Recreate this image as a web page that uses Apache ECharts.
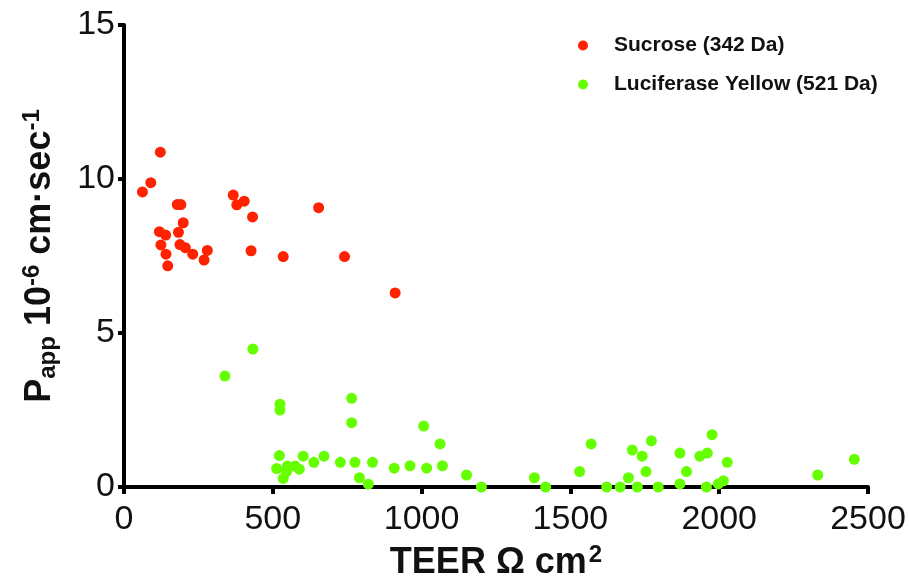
<!DOCTYPE html>
<html>
<head>
<meta charset="utf-8">
<script src="https://cdn.jsdelivr.net/npm/echarts@6/dist/echarts.min.js"></script>
<style>
html, body { margin: 0; padding: 0; background: #fff; }
#chart { width: 909px; height: 582px; }
</style>
</head>
<body>
<div id="chart"></div>
<script>
// TEER (ohm cm2) vs Papp (10^-6 cm/sec)
var sucrose = [
    [62, 9.58], [90, 9.88], [122, 10.87], [179, 9.17], [191, 9.17], [199, 8.58],
    [119, 8.29], [140, 8.18], [183, 8.27], [124, 7.86], [188, 7.87], [206, 7.77],
    [141, 7.56], [231, 7.56], [280, 7.68], [269, 7.37], [147, 7.18],
    [367, 9.48], [379, 9.16], [404, 9.28], [432, 8.77], [654, 9.07],
    [427, 7.67], [535, 7.48], [741, 7.48], [911, 6.3]
];
var lucifer = [
    [339, 3.6], [433, 4.48], [524, 2.69], [524, 2.5], [522, 1.02], [513, 0.6],
    [535, 0.28], [549, 0.68], [546, 0.5], [575, 0.68], [589, 0.58], [602, 1.0],
    [638, 0.8], [672, 1.0], [727, 0.8], [776, 0.8], [765, 2.88], [765, 2.09],
    [791, 0.3], [821, 0.09], [835, 0.8], [908, 0.61], [961, 0.69], [1007, 1.98],
    [1017, 0.61], [1062, 1.4], [1070, 0.69], [1151, 0.39], [1201, 0], [1379, 0.3],
    [1417, 0], [1531, 0.5], [1570, 1.4], [1622, 0], [1667, 0], [1695, 0.3],
    [1708, 1.2], [1725, 0], [1741, 1.0], [1754, 0.5], [1772, 1.5], [1795, 0],
    [1868, 1.1], [1868, 0.1], [1890, 0.5], [1935, 1.0], [1960, 1.1], [1976, 1.7],
    [1957, 0], [1997, 0.1], [2014, 0.2], [2027, 0.8], [2331, 0.39], [2454, 0.9]
];
var seriesNames = ['Sucrose (342 Da)', 'Luciferase Yellow (521 Da)'];

var font = "'Liberation Sans', Arial, sans-serif";
var chart = echarts.init(document.getElementById('chart'));

chart.setOption({
    animation: false,
    grid: { left: 124, right: 41, top: 25, bottom: 95, outerBoundsMode: 'none', containLabel: false },
    legend: {
        orient: 'vertical',
        left: 573,
        top: 30,
        itemWidth: 10,
        itemHeight: 10,
        itemGap: 18,
        icon: 'circle',
        textStyle: {
            fontFamily: font, fontSize: 21, fontWeight: 'bold', color: '#111',
            padding: [0, 0, 0, 21]
        },
        data: seriesNames
    },
    xAxis: {
        type: 'value',
        min: 0, max: 2500, interval: 500,
        splitLine: { show: false },
        axisLine: { lineStyle: { color: '#000', width: 4 } },
        axisTick: { length: 7, lineStyle: { color: '#000', width: 4 } },
        axisLabel: {
            margin: 16, fontFamily: font, fontSize: 34, color: '#111',
            formatter: function (v) { return String(v); }
        },
        name: '{b|TEER Ω cm}{sup|2}',
        nameLocation: 'middle',
        nameGap: 56,
        nameTextStyle: {
            rich: {
                b: { fontFamily: font, fontSize: 36, fontWeight: 'bold', color: '#111' },
                sup: { fontFamily: font, fontSize: 24, fontWeight: 'bold', color: '#111', verticalAlign: 'top', padding: [0, 0, 16, 2] }
            }
        }
    },
    yAxis: {
        type: 'value',
        min: 0, max: 15, interval: 5,
        splitLine: { show: false },
        axisLine: { lineStyle: { color: '#000', width: 4 } },
        axisTick: { length: 6, lineStyle: { color: '#000', width: 4 } },
        axisLabel: { margin: 9, fontFamily: font, fontSize: 34, color: '#111' },
        name: '{b|P}{sub|app}{b| 10}{sup|-6}{b| cm·sec}{sup|-1}',
        nameLocation: 'middle',
        nameGap: 64,
        nameRotate: 90,
        nameTextStyle: {
            rich: {
                b: { fontFamily: font, fontSize: 36, fontWeight: 'bold', color: '#111' },
                sub: { fontFamily: font, fontSize: 24, fontWeight: 'bold', color: '#111', padding: [16, 0, 0, 0] },
                sup: { fontFamily: font, fontSize: 24, fontWeight: 'bold', color: '#111', padding: [0, 0, 16, 0] }
            }
        }
    },
    series: [
        {
            name: seriesNames[0],
            type: 'scatter',
            symbolSize: 11,
            itemStyle: { color: '#ff2200', opacity: 1 },
            data: sucrose
        },
        {
            name: seriesNames[1],
            type: 'scatter',
            symbolSize: 11,
            itemStyle: { color: '#66ff00', opacity: 1 },
            data: lucifer
        }
    ]
});
</script>
</body>
</html>
